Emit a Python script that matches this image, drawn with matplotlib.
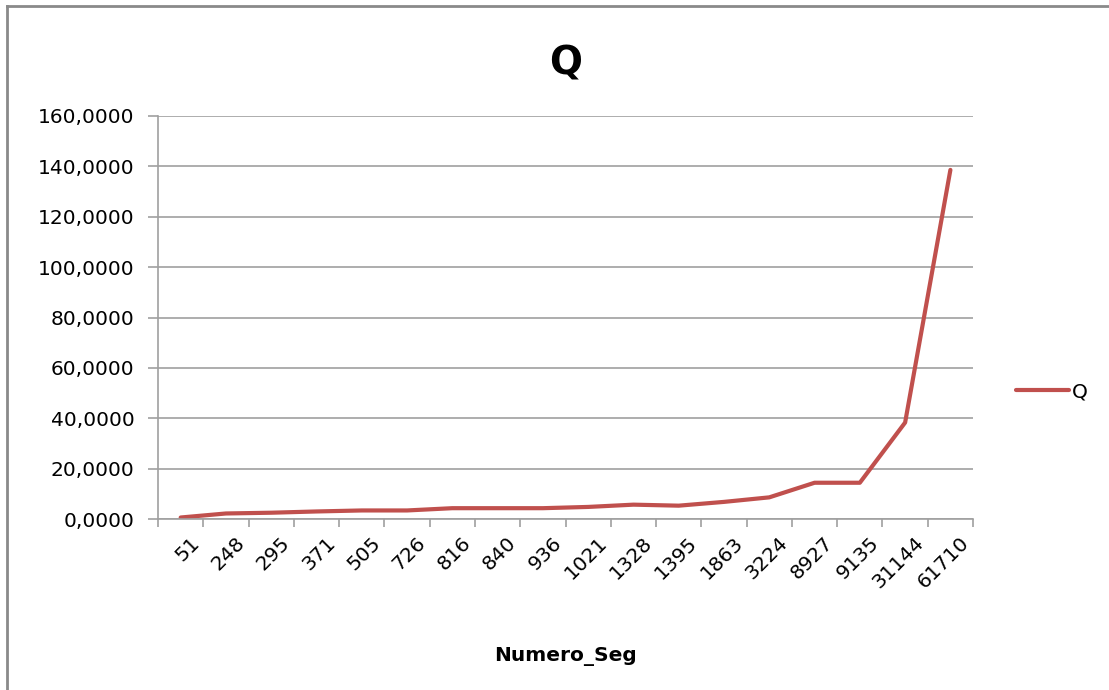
import numpy as np
import matplotlib.pyplot as plt
from matplotlib.lines import Line2D

# Numero_Seg categories and their Q values
numero_seg = ['51', '248', '295', '371', '505', '726', '816', '840', '936',
              '1021', '1328', '1395', '1863', '3224', '8927', '9135', '31144', '61710']
q = [0.6, 2.2, 2.5, 3.0, 3.4, 3.4, 4.3, 4.3, 4.3,
     4.8, 5.7, 5.3, 6.8, 8.6, 14.4, 14.4, 38.3, 138.6]

plt.rcParams['font.family'] = ['DejaVu Sans']
gray = '#a0a0a0'
red = '#c0504d'

fig = plt.figure(figsize=(11.09, 6.9), dpi=100)
ax = fig.add_axes([0.1425, 0.2478, 0.7349, 0.5841])

x = np.arange(len(numero_seg))
line, = ax.plot(x, q, color=red, lw=3, solid_capstyle='round', solid_joinstyle='round')

ax.set_xlim(-0.5, len(numero_seg) - 0.5)
ax.set_ylim(0, 160)
ax.set_yticks(np.arange(0, 161, 20))
ax.set_yticklabels([('%.4f' % v).replace('.', ',') for v in np.arange(0, 161, 20)])

# tick marks sit between categories, labels sit on them
ax.set_xticks(np.arange(-0.5, len(numero_seg), 1))
ax.set_xticklabels([])
ax.set_xticks(x + 0.2, minor=True)
ax.set_xticklabels(numero_seg, minor=True, rotation=45, ha='right', va='top',
                   rotation_mode='anchor', fontsize=14.5)
ax.tick_params(axis='x', which='minor', length=0, pad=10)
ax.tick_params(axis='x', which='major', length=6, color=gray, width=1.2, direction='out')
ax.tick_params(axis='y', length=7, color=gray, width=1.2, direction='out', labelsize=14.5, pad=10)

ax.yaxis.grid(True, color=gray, lw=1.2)
ax.set_axisbelow(True)
for side in ['top', 'right']:
    ax.spines[side].set_visible(False)
for side in ['left', 'bottom']:
    ax.spines[side].set_color(gray)
    ax.spines[side].set_linewidth(1.2)

ax.set_title('Q', fontsize=28, fontweight='bold', pad=30)
ax.set_xlabel('Numero_Seg', fontsize=14.5, fontweight='bold', labelpad=40)

fig.legend(handles=[Line2D([], [], color=red, lw=3, solid_capstyle='round')], labels=['Q'],
           loc='center left', bbox_to_anchor=(0.9, 0.432), frameon=False,
           fontsize=14.5, handlelength=2.6, handletextpad=0.15)

# chart border
fig.add_artist(Line2D([0.0063, 0.0063], [0, 0.9906], transform=fig.transFigure,
                      color='#8a8a8a', lw=2))
fig.add_artist(Line2D([0.0063, 1], [0.9906, 0.9906], transform=fig.transFigure,
                      color='#8a8a8a', lw=2))

fig.savefig('out.png', dpi=100)
